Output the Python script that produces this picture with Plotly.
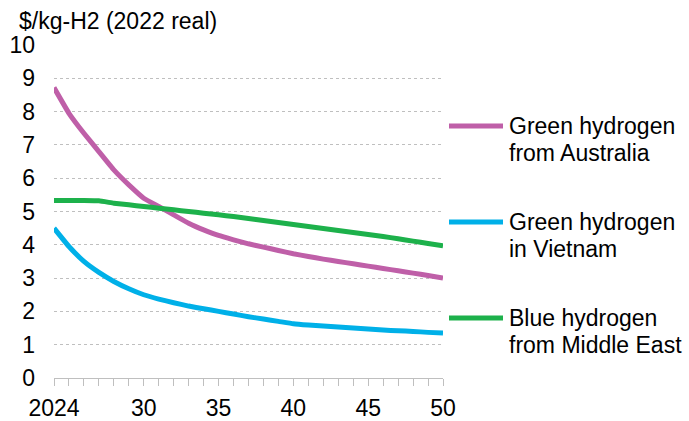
import plotly.graph_objects as go

years = list(range(2024, 2051))

australia_green = [8.72, 7.95, 7.35, 6.80, 6.25, 5.80, 5.40, 5.15, 4.90, 4.65,
                   4.45, 4.28, 4.15, 4.03, 3.93, 3.83, 3.73, 3.65, 3.57, 3.50,
                   3.43, 3.36, 3.29, 3.22, 3.15, 3.08, 3.00]
vietnam_green = [4.50, 3.95, 3.50, 3.17, 2.90, 2.68, 2.50, 2.37, 2.26, 2.16,
                 2.08, 2.00, 1.92, 1.84, 1.77, 1.70, 1.63, 1.59, 1.56, 1.53,
                 1.50, 1.47, 1.44, 1.42, 1.40, 1.37, 1.35]
middle_east_blue = [5.33, 5.33, 5.33, 5.32, 5.25, 5.20, 5.15, 5.10, 5.05, 5.00,
                    4.95, 4.90, 4.85, 4.79, 4.73, 4.67, 4.61, 4.55, 4.49, 4.43,
                    4.37, 4.31, 4.25, 4.18, 4.11, 4.04, 3.97]

series_names = [["Green hydrogen", "from Australia"],
                ["Green hydrogen", "in Vietnam"],
                ["Blue hydrogen", "from Middle East"]]
series_values = [australia_green, vietnam_green, middle_east_blue]
series_colors = ["#BF5FA8", "#00B0E8", "#1DB14B"]

x_tick_vals = [2024, 2030, 2035, 2040, 2045, 2050]
x_tick_text = ["2024", "30", "35", "40", "45", "50"]
y_tick_vals = list(range(0, 11))

FONT = "Liberation Sans, Arial, sans-serif"
W, H = 689, 421
ML, MR, MT, MB = 54, 246, 45, 43
plot_w = W - ML - MR
plot_h = H - MT - MB

fig = go.Figure()
for vals, color in zip(series_values, series_colors):
    fig.add_trace(go.Scatter(
        x=years, y=vals, mode="lines",
        line=dict(color=color, width=5, shape="spline", smoothing=0.3),
        showlegend=False, hoverinfo="skip",
    ))

# Hand-placed legend: line sample beside two-line label
legend_rows_px = [126, 222, 318]
for names, color, row in zip(series_names, series_colors, legend_rows_px):
    yp = 1 - (row - MT) / plot_h
    x0 = (449 - ML) / plot_w
    x1 = (503 - ML) / plot_w
    fig.add_shape(type="line", xref="paper", yref="paper",
                  x0=x0, x1=x1, y0=yp, y1=yp,
                  line=dict(color=color, width=5))
    for i, txt in enumerate(names):
        fig.add_annotation(
            text=txt, xref="paper", yref="paper",
            x=(507 - ML) / plot_w, y=1 - (row + i * 27.4 - MT) / plot_h,
            xanchor="left", yanchor="middle", showarrow=False,
            font=dict(family=FONT, size=23, color="#000000"),
        )

fig.add_annotation(
    text="$/kg-H2 (2022 real)", xref="paper", yref="paper",
    x=(17 - ML) / plot_w, y=1 + (MT - 21) / plot_h,
    xanchor="left", yanchor="middle", showarrow=False,
    font=dict(family=FONT, size=23, color="#000000"),
)

fig.update_layout(
    width=W, height=H,
    margin=dict(l=ML, r=MR, t=MT, b=MB, autoexpand=False),
    paper_bgcolor="white", plot_bgcolor="white",
    font=dict(family=FONT, size=23, color="#000000"),
    xaxis=dict(
        range=[2024, 2050], tickvals=x_tick_vals, ticktext=x_tick_text,
        showgrid=False, zeroline=False, automargin=False,
        showline=True, linecolor="#BFBFBF", linewidth=1,
        ticks="outside", ticklen=7, tickcolor="#BFBFBF", tickwidth=1,
        minor=dict(dtick=1, tick0=2024, ticks="outside", ticklen=7,
                   tickcolor="#BFBFBF", tickwidth=1, showgrid=False),
        ticklabelstandoff=2,
        tickfont=dict(family=FONT, size=23),
        fixedrange=True,
    ),
    yaxis=dict(
        range=[0, 10], tickvals=y_tick_vals, automargin=False,
        showgrid=True, gridcolor="#BFBFBF", gridwidth=1, griddash="dot",
        zeroline=False, showline=False, ticks="",
        ticklabelstandoff=18,
        tickfont=dict(family=FONT, size=23),
        fixedrange=True,
    ),
)

fig.write_html("out.html")
